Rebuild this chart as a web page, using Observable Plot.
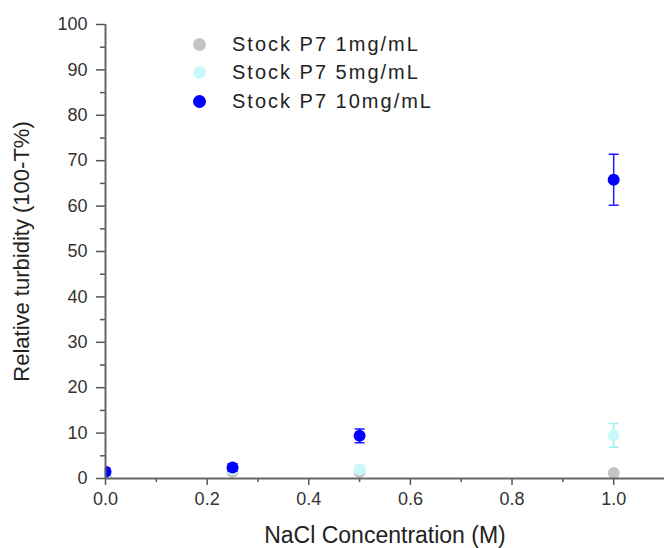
<!DOCTYPE html>
<html><head>
<meta charset="utf-8">
<script src="https://cdn.jsdelivr.net/npm/d3@7"></script>
<script src="https://cdn.jsdelivr.net/npm/@observablehq/plot@0.6"></script>
<style>
body{margin:0;background:#fff;font-family:"Liberation Sans",Arial,sans-serif}
#wrap{position:relative;width:664px;height:548px}
#legend{position:absolute;left:193px;top:30px;font-size:20px;letter-spacing:2px;color:#222}
.row{display:flex;align-items:center;height:28.5px}
.sw{width:13px;height:13px;border-radius:50%;margin-right:26px}
</style></head><body><div id="wrap"><div id="legend"></div></div>
<script>
const concentrations = [0, 0.25, 0.5, 1.0];
const seriesNames = ["Stock P7 1mg/mL", "Stock P7 5mg/mL", "Stock P7 10mg/mL"];
const seriesColors = ["#c4c4c4", "#c8f8f8", "#0000ff"];
const errorColors = ["#b0b0b0", "#9eeeee", "#1a1aff"];
const turbidity1 = [0.5, 1.5, 1.5, 1.2];
const error1 = [0.3, 0.3, 0.5, 0.3];
const turbidity5 = [1.0, 2.0, 2.0, 9.5];
const error5 = [0.5, 0.5, 0.8, 2.6];
const turbidity10 = [1.5, 2.4, 9.4, 65.8];
const error10 = [0.8, 0.8, 1.5, 5.6];
const xTicks = [0, 0.2, 0.4, 0.6, 0.8, 1.0];
const xMinorTicks = [0.1, 0.3, 0.5, 0.7, 0.9];
const yTicks = [0, 10, 20, 30, 40, 50, 60, 70, 80, 90, 100];
const yMinorTicks = [5, 15, 25, 35, 45, 55, 65, 75, 85, 95];
const xLabel = "NaCl Concentration (M)";
const yLabel = "Relative turbidity (100-T%)";

const allValues = [turbidity1, turbidity5, turbidity10];
const allErrors = [error1, error5, error10];
const data = [];
seriesNames.forEach((name, s) => {
  concentrations.forEach((c, i) => {
    data.push({series: name, s, x: c, y: allValues[s][i], e: allErrors[s][i]});
  });
});

const capSymbol = {draw(ctx, size) { const w = 5; ctx.moveTo(-w, 0); ctx.lineTo(w, 0); }};

const marks = [];
seriesNames.forEach((name, s) => {
  const d = data.filter(v => v.s === s);
  marks.push(
    Plot.ruleX(d, {x: "x", y1: v => v.y - v.e, y2: v => v.y + v.e, stroke: errorColors[s], strokeWidth: 1.5}),
    Plot.dot(d, {x: "x", y: v => v.y + v.e, symbol: capSymbol, stroke: errorColors[s], strokeWidth: 1.5}),
    Plot.dot(d, {x: "x", y: v => v.y - v.e, symbol: capSymbol, stroke: errorColors[s], strokeWidth: 1.5}),
    Plot.dot(d, {x: "x", y: "y", r: 6, fill: seriesColors[s]})
  );
});

const chart = Plot.plot({
  width: 664, height: 548,
  marginLeft: 105, marginRight: 0, marginTop: 24, marginBottom: 70,
  style: {fontFamily: '"Liberation Sans", Arial, sans-serif', fontSize: "18px", color: "#333", background: "#fff"},
  x: {domain: [0, 1.1]},
  y: {domain: [0, 100]},
  marks: [
    ...marks,
    Plot.axisX(xTicks, {tickFormat: d => d.toFixed(1), tickSize: 7, tickPadding: 7, label: null, stroke: "#555", strokeWidth: 1.5, fontSize: 18}),
    Plot.axisX(xMinorTicks, {text: null, tickSize: 4, label: null, stroke: "#555", strokeWidth: 1.5}),
    Plot.axisY(yTicks, {tickSize: 9, tickPadding: 9, label: null, stroke: "#555", strokeWidth: 1.5, fontSize: 18}),
    Plot.axisY(yMinorTicks, {text: null, tickSize: 5, label: null, stroke: "#555", strokeWidth: 1.5}),
    Plot.ruleX([0], {stroke: "#666", strokeWidth: 2}),
    Plot.ruleY([0], {stroke: "#666", strokeWidth: 2}),
    Plot.text([xLabel], {frameAnchor: "bottom", dy: 57, lineAnchor: "middle", textAnchor: "middle", fontSize: 23, fill: "#222"}),
    Plot.text([yLabel], {frameAnchor: "left", dx: -84, rotate: -90, lineAnchor: "middle", textAnchor: "middle", fontSize: 22, fill: "#222"})
  ]
});
document.getElementById("wrap").prepend(chart);

// clip the dot marks to the plotting frame, using the chart's own scale ranges
const xr = chart.scale("x").range, yr = chart.scale("y").range;
const svgNode = chart.tagName.toLowerCase() === "svg" ? chart : chart.querySelector("svg");
d3.select(svgNode).append("defs").append("clipPath").attr("id", "frameclip").append("rect")
  .attr("x", Math.min(...xr)).attr("y", Math.min(...yr))
  .attr("width", Math.abs(xr[1] - xr[0])).attr("height", Math.abs(yr[1] - yr[0]));
[...svgNode.children].filter(g => g.getAttribute("aria-label") === "dot")
  .forEach(g => g.setAttribute("clip-path", "url(#frameclip)"));

const legend = document.getElementById("legend");
seriesNames.forEach((name, s) => {
  const row = document.createElement("div");
  row.className = "row";
  const sw = document.createElement("div");
  sw.className = "sw";
  sw.style.background = seriesColors[s];
  const t = document.createElement("span");
  t.textContent = name;
  row.append(sw, t);
  legend.append(row);
});
</script>
</body></html>
